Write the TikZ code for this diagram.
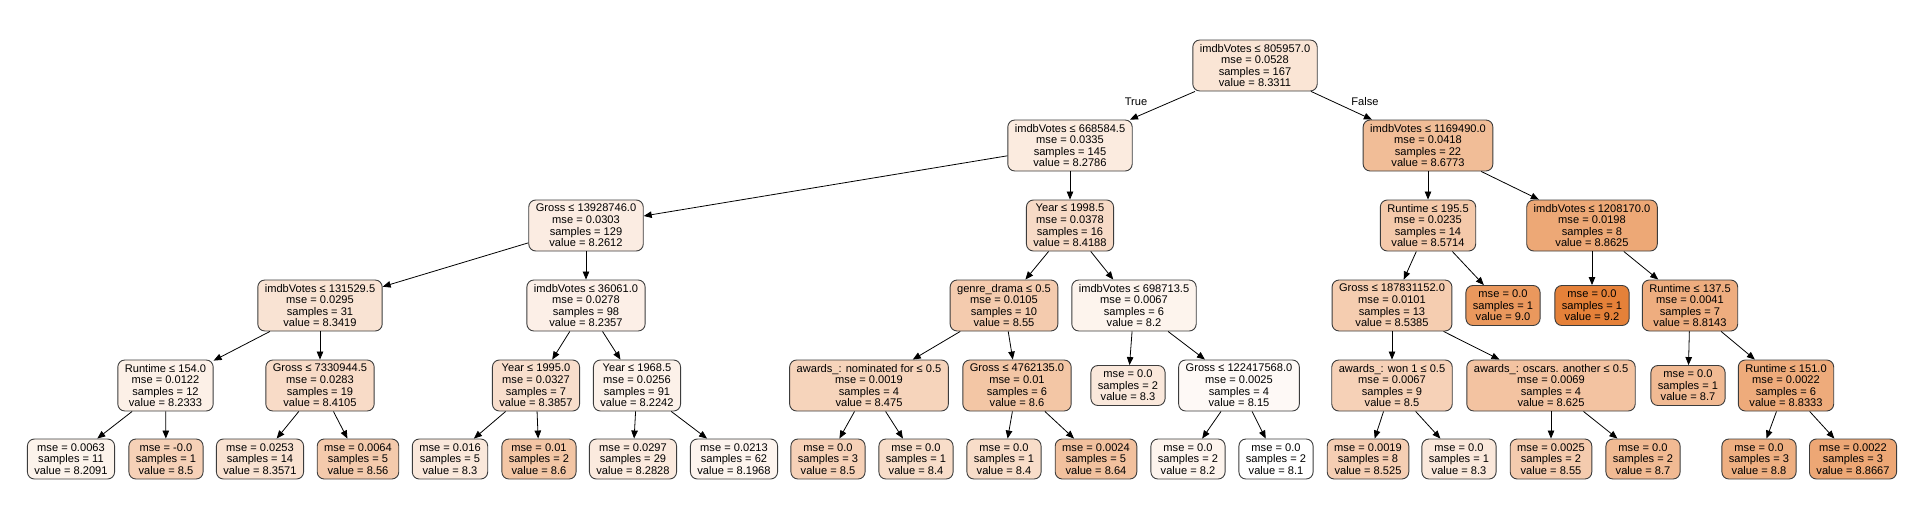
\documentclass[tikz,border=0pt]{standalone}
\usepackage{fontspec}
\setmainfont{Liberation Sans}
\usetikzlibrary{arrows.meta}
\definecolor{skl}{RGB}{229,129,57}
\definecolor{bordergray}{RGB}{60,60,60}
\tikzset{
  tn/.style={draw=bordergray, line width=0.9pt, rounded corners=7pt, align=center,
    inner xsep=7pt, inner ysep=0pt, text=black,
    font=\fontsize{11.1}{11.6}\selectfont},
  splitbox/.style={tn, minimum height=51pt},
  leafbox/.style={tn, minimum height=40pt},
  lv/.style={fill=skl!#1!white},
  conn/.style={draw=black, line width=0.8pt, -{Triangle[length=8pt,width=6.5pt]}},
  lbl/.style={font=\fontsize{11.1}{11.6}\selectfont, inner sep=0pt},
}
\newcommand{\mysplit}[8]{\node[splitbox,lv=#8] (#1) at (#2,#3) {#4\\mse = #5\\samples = #6\\value = #7};}
\newcommand{\myleaf}[7]{\node[leafbox,lv=#7] (#1) at (#2,#3) {mse = #4\\samples = #5\\value = #6};}
\begin{document}
\begin{tikzpicture}[x=1pt,y=-1pt]
\useasboundingbox (0,0) rectangle (1916,522);
% level 0
\mysplit{n0}{1255}{65.5}{imdbVotes ≤ 805957.0}{0.0528}{167}{8.3311}{21.0}
% level 1
\mysplit{n1}{1070}{145.5}{imdbVotes ≤ 668584.5}{0.0335}{145}{8.2786}{16.2}
\mysplit{n2}{1428}{145.5}{imdbVotes ≤ 1169490.0}{0.0418}{22}{8.6773}{52.5}
% level 2
\mysplit{n3}{586}{225.5}{Gross ≤ 13928746.0}{0.0303}{129}{8.2612}{14.7}
\mysplit{n4}{1070}{225.5}{Year ≤ 1998.5}{0.0378}{16}{8.4188}{29.0}
\mysplit{n5}{1428}{225.5}{Runtime ≤ 195.5}{0.0235}{14}{8.5714}{42.9}
\mysplit{n6}{1592}{225.5}{imdbVotes ≤ 1208170.0}{0.0198}{8}{8.8625}{69.3}
% level 3
\mysplit{n7}{320}{305.5}{imdbVotes ≤ 131529.5}{0.0295}{31}{8.3419}{22.0}
\mysplit{n8}{586}{305.5}{imdbVotes ≤ 36061.0}{0.0278}{98}{8.2357}{12.3}
\mysplit{n9}{1004}{305.5}{genre\_drama ≤ 0.5}{0.0105}{10}{8.55}{40.9}
\mysplit{n10}{1134}{305.5}{imdbVotes ≤ 698713.5}{0.0067}{6}{8.2}{9.1}
\mysplit{n11}{1392}{305.5}{Gross ≤ 187831152.0}{0.0101}{13}{8.5385}{39.9}
\myleaf{n12}{1503}{305.5}{0.0}{1}{9.0}{81.8}
\myleaf{n13}{1592}{305.5}{0.0}{1}{9.2}{100}
\mysplit{n14}{1690}{305.5}{Runtime ≤ 137.5}{0.0041}{7}{8.8143}{64.9}
% level 4
\mysplit{n15}{165.5}{385.5}{Runtime ≤ 154.0}{0.0122}{12}{8.2333}{12.1}
\mysplit{n16}{320}{385.5}{Gross ≤ 7330944.5}{0.0283}{19}{8.4105}{28.2}
\mysplit{n17}{536}{385.5}{Year ≤ 1995.0}{0.0327}{7}{8.3857}{26.0}
\mysplit{n18}{637}{385.5}{Year ≤ 1968.5}{0.0256}{91}{8.2242}{11.3}
\mysplit{n19}{869}{385.5}{awards\_: nominated for ≤ 0.5}{0.0019}{4}{8.475}{34.1}
\mysplit{n20}{1017}{385.5}{Gross ≤ 4762135.0}{0.01}{6}{8.6}{45.5}
\myleaf{n21}{1128}{385.5}{0.0}{2}{8.3}{18.2}
\mysplit{n22}{1239}{385.5}{Gross ≤ 122417568.0}{0.0025}{4}{8.15}{4.5}
\mysplit{n23}{1392}{385.5}{awards\_: won 1 ≤ 0.5}{0.0067}{9}{8.5}{36.4}
\mysplit{n24}{1551}{385.5}{awards\_: oscars. another ≤ 0.5}{0.0069}{4}{8.625}{47.7}
\myleaf{n25}{1688}{385.5}{0.0}{1}{8.7}{54.5}
\mysplit{n26}{1786}{385.5}{Runtime ≤ 151.0}{0.0022}{6}{8.8333}{66.7}
% level 5
\myleaf{n27}{71}{459}{0.0063}{11}{8.2091}{9.9}
\myleaf{n28}{166}{459}{-0.0}{1}{8.5}{36.4}
\myleaf{n29}{260}{459}{0.0253}{14}{8.3571}{23.4}
\myleaf{n30}{358}{459}{0.0064}{5}{8.56}{41.8}
\myleaf{n31}{450}{459}{0.016}{5}{8.3}{18.2}
\myleaf{n32}{539}{459}{0.01}{2}{8.6}{45.5}
\myleaf{n33}{633}{459}{0.0297}{29}{8.2828}{16.6}
\myleaf{n34}{734}{459}{0.0213}{62}{8.1968}{8.8}
\myleaf{n35}{828}{459}{0.0}{3}{8.5}{36.4}
\myleaf{n36}{916}{459}{0.0}{1}{8.4}{27.3}
\myleaf{n37}{1004}{459}{0.0}{1}{8.4}{27.3}
\myleaf{n38}{1096}{459}{0.0024}{5}{8.64}{49.1}
\myleaf{n39}{1188}{459}{0.0}{2}{8.2}{9.1}
\myleaf{n40}{1276}{459}{0.0}{2}{8.1}{0}
\myleaf{n41}{1368}{459}{0.0019}{8}{8.525}{38.6}
\myleaf{n42}{1459}{459}{0.0}{1}{8.3}{18.2}
\myleaf{n43}{1551}{459}{0.0025}{2}{8.55}{40.9}
\myleaf{n44}{1643}{459}{0.0}{2}{8.7}{54.5}
\myleaf{n45}{1759}{459}{0.0}{3}{8.8}{63.6}
\myleaf{n46}{1853}{459}{0.0022}{3}{8.8667}{69.7}
% edge labels
\node[lbl] (ltrue) at (1136,102) {True};
\node[lbl] (lfalse) at (1365,102) {False};
% edges
\foreach \a/\b in {n0/n1,n0/n2,n1/n3,n1/n4,n2/n5,n2/n6,n3/n7,n3/n8,n4/n9,n4/n10,
  n5/n11,n5/n12,n6/n13,n6/n14,n7/n15,n7/n16,n8/n17,n8/n18,n9/n19,n9/n20,
  n10/n21,n10/n22,n11/n23,n11/n24,n14/n25,n14/n26,n15/n27,n15/n28,n16/n29,n16/n30,
  n17/n31,n17/n32,n18/n33,n18/n34,n19/n35,n19/n36,n20/n37,n20/n38,n22/n39,n22/n40,
  n23/n41,n23/n42,n24/n43,n24/n44,n26/n45,n26/n46}
  \draw[conn] (\a) -- (\b);
\end{tikzpicture}
\end{document}
